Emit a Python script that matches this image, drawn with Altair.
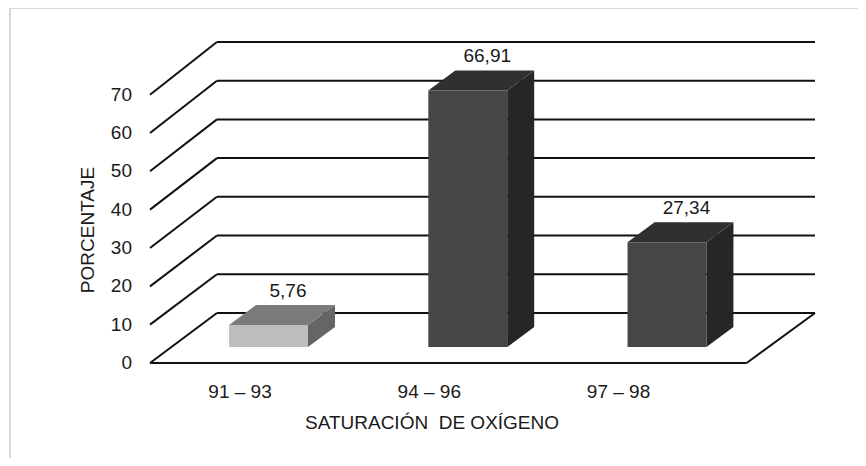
import altair as alt
import pandas as pd

# ---- data ----
categories = ["91 – 93", "94 – 96", "97 – 98"]
values = [5.76, 66.91, 27.34]
tick_values = [0, 10, 20, 30, 40, 50, 60, 70]
x_title = "SATURACIÓN\u00a0\u00a0DE OXÍGENO"
y_title = "PORCENTAJE"

# ---- style / geometry constants ----
front_cols = ["#bdbdbd", "#464646", "#464646"]
top_cols = ["#7b7b7b", "#303030", "#303030"]
side_cols = ["#656565", "#262626", "#262626"]
FONT = "Liberation Sans"
FS = 19
TXT = "#1a1a1a"

XMIN, XMAX = -0.595, 2.743
YMAX = 84
HALF = 0.198          # half bar width (x units)
BDX, BDY = 0.1355, 5.22   # bar depth offsets
BASE = 4.18           # bar front bottom offset (value units)
GDX, GDY = 0.336, 13.05   # wall depth offsets
BACK_K = 1.01
FLOOR_R = 2.40

xs = alt.Scale(domain=[XMIN, XMAX], nice=False, zero=False)
ys = alt.Scale(domain=[0, YMAX], nice=False, zero=False)

# grid lines
rows = []
for t in tick_values:
    yb = GDY + t * BACK_K
    rows.append(dict(x=XMIN, x2=XMIN + GDX, y=t, y2=yb))
    rows.append(dict(x=XMIN + GDX, x2=XMAX, y=yb, y2=yb))
rows.append(dict(x=XMIN, x2=FLOOR_R, y=0, y2=0))
rows.append(dict(x=FLOOR_R, x2=XMAX, y=0, y2=GDY))
grid_df = pd.DataFrame(rows)

grid = alt.Chart(grid_df).mark_rule(color="#111111", strokeWidth=2).encode(
    x=alt.X("x:Q", scale=xs, axis=None),
    x2="x2:Q",
    y=alt.Y("y:Q", scale=ys, axis=None),
    y2="y2:Q",
)

ticklab = alt.Chart(pd.DataFrame({"v": tick_values})).mark_text(
    font=FONT, fontSize=FS, color=TXT, baseline="middle", align="right"
).encode(
    x=alt.value(-18),
    y=alt.Y("v:Q", scale=ys, axis=None),
    text="v:N",
)

# bars
front_rows, top_rows, side_rows, lab_rows, cat_rows = [], [], [], [], []
for i, (c, v) in enumerate(zip(categories, values)):
    front_rows.append(dict(cat=c, x=i - HALF, x2=i + HALF, y=BASE, y2=BASE + v, c=front_cols[i]))
    top_rows.append(dict(cat=c, y=BASE + v, xa=i - HALF, xb=i + HALF, c=top_cols[i]))
    top_rows.append(dict(cat=c, y=BASE + v + BDY, xa=i - HALF + BDX, xb=i + HALF + BDX, c=top_cols[i]))
    side_rows.append(dict(cat=c, x=i + HALF, ya=BASE, yb=BASE + v, c=side_cols[i]))
    side_rows.append(dict(cat=c, x=i + HALF + BDX, ya=BASE + BDY, yb=BASE + v + BDY, c=side_cols[i]))
    lab_rows.append(dict(x=i + BDX / 2 + 0.03, y=BASE + v + BDY, t=f"{v:.2f}".replace(".", ",")))
    cat_rows.append(dict(x=i * 0.95 - 0.143, t=c))

front = alt.Chart(pd.DataFrame(front_rows)).mark_rect().encode(
    x=alt.X("x:Q", scale=xs, axis=None), x2="x2:Q",
    y=alt.Y("y:Q", scale=ys, axis=None), y2="y2:Q",
    color=alt.Color("c:N", scale=None),
)
top = alt.Chart(pd.DataFrame(top_rows)).mark_area(orient="horizontal").encode(
    y=alt.Y("y:Q", scale=ys, axis=None),
    x=alt.X("xa:Q", scale=xs, axis=None), x2="xb:Q",
    detail="cat:N",
    color=alt.Color("c:N", scale=None),
)
side = alt.Chart(pd.DataFrame(side_rows)).mark_area(orient="vertical").encode(
    x=alt.X("x:Q", scale=xs, axis=None),
    y=alt.Y("ya:Q", scale=ys, axis=None), y2="yb:Q",
    detail="cat:N",
    color=alt.Color("c:N", scale=None),
)
labels = alt.Chart(pd.DataFrame(lab_rows)).mark_text(
    font=FONT, fontSize=FS, color=TXT, baseline="alphabetic", dy=-8
).encode(
    x=alt.X("x:Q", scale=xs, axis=None),
    y=alt.Y("y:Q", scale=ys, axis=None),
    text="t:N",
)
cats = alt.Chart(pd.DataFrame(cat_rows)).mark_text(
    font=FONT, fontSize=FS, color=TXT, baseline="middle"
).encode(
    x=alt.X("x:Q", scale=xs, axis=None),
    y=alt.value(351),
    text="t:N",
)
xt = alt.Chart(pd.DataFrame({"t": [x_title]})).mark_text(
    font=FONT, fontSize=FS, color=TXT, baseline="middle"
).encode(x=alt.value(282), y=alt.value(382), text="t:N")
yt = alt.Chart(pd.DataFrame({"t": [y_title]})).mark_text(
    font=FONT, fontSize=FS, color=TXT, baseline="middle", angle=270
).encode(x=alt.value(-62), y=alt.value(189), text="t:N")

border_top = alt.Chart(pd.DataFrame({"k": [0]})).mark_rule(
    color="#d9d9d9", strokeWidth=2
).encode(x=alt.value(-140), x2=alt.value(716), y=alt.value(-33), y2=alt.value(-33))
border_left = alt.Chart(pd.DataFrame({"k": [0]})).mark_rule(
    color="#d9d9d9", strokeWidth=2
).encode(x=alt.value(-140), x2=alt.value(-140), y=alt.value(-33), y2=alt.value(417))

chart = alt.layer(border_top, border_left, grid, side, top, front, labels, ticklab, cats, xt, yt).properties(
    width=665, height=322,
    autosize=alt.AutoSizeParams(type="none"),
    padding={"left": 142, "top": 33, "right": 43, "bottom": 95},
    background="white",
).configure_view(stroke=None)

chart.save("out.html", embed_options={"renderer": "svg", "actions": False})
